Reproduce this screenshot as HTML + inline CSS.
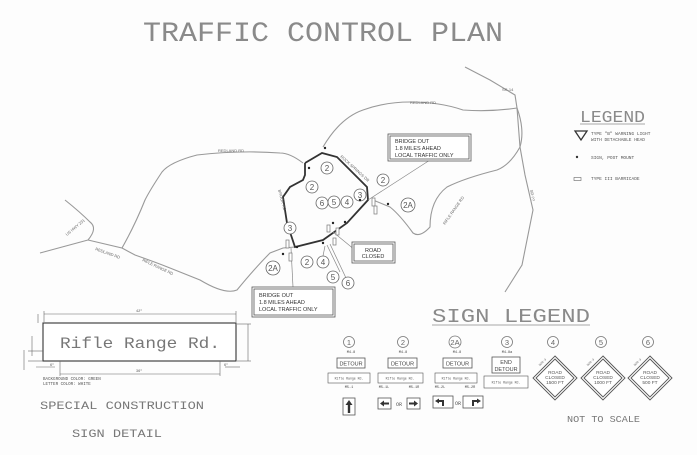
<!DOCTYPE html>
<html><head><meta charset="utf-8"><style>
html,body{margin:0;padding:0;background:#fff;}
svg{display:block;font-family:"Liberation Mono",monospace;}
</style></head><body>
<svg width="697" height="455" viewBox="0 0 697 455" xmlns="http://www.w3.org/2000/svg">
<rect width="697" height="455" fill="#fdfdfd"/>
<text x="143" y="41" font-size="28" fill="#8a8a8a" textLength="360" lengthAdjust="spacingAndGlyphs" font-family="Liberation Mono,monospace">TRAFFIC CONTROL PLAN</text>

<!-- roads -->
<g fill="none" stroke="#999" stroke-width="1.1">
<path d="M465,67 L490,80 L515,95 L517,108"/>
<path d="M323,147 Q340,118 363,110 Q385,102 410,102 Q440,102 463,110 Q490,112 517,108 Q525,130 520,147 Q510,165 497,170 Q465,178 447,187 Q430,200 430,227 Q420,238 413,233 Q400,215 390,207 L373,200"/>
<path d="M517,108 L520,147 L525,175 L533,210 L522,265 L505,292"/>
<path d="M303,163 Q290,153 280,153 Q240,150 197,155 Q170,162 162,172 Q150,190 145,200 Q135,225 122,248 L88,240"/>
<path d="M88,240 Q98,228 90,222 Q80,212 65,200"/>
<path d="M88,240 L40,253"/>
<path d="M122,248 L135,255 Q155,262 170,268 Q190,276 200,280 Q225,295 237,290 Q255,268 270,253 L283,248 L295,247"/>
</g>
<g fill="none" stroke="#333" stroke-width="1.8">
<path d="M305,163 L305,175 L303,180 L290,187 L283,197 L287,223 L295,247 L323,240 L347,223 L368,200 L367,187 L337,157 L322,153 L305,163"/>
</g>
<g stroke="#888" stroke-width="0.7" fill="none">
<line x1="368" y1="200" x2="430" y2="160"/>
<line x1="291" y1="248" x2="293" y2="287"/>
<line x1="333" y1="232" x2="355" y2="250"/>
<line x1="327" y1="245" x2="340" y2="272"/>
<line x1="330" y1="244" x2="346" y2="278"/>
<line x1="325" y1="246" x2="323" y2="256"/>
</g>
<!-- road labels -->
<g font-size="4" fill="#666" font-family="Liberation Sans,sans-serif">
<text x="218" y="152">REDLAND RD</text>
<text x="410" y="104">REDLAND RD</text>
<text x="95" y="250" transform="rotate(20 95 250)">REDLAND RD</text>
<text x="142" y="261" transform="rotate(25 142 261)">RIFLE RANGE RD</text>
<text x="340" y="157" transform="rotate(42 340 157)">ROCK SPRINGS DR</text>
<text x="445" y="225" transform="rotate(-55 445 225)">RIFLE RANGE RD</text>
<text x="530" y="190" transform="rotate(80 530 190)">SR-??</text>
<text x="502" y="91">SR-14</text>
<text x="67" y="236" transform="rotate(-40 67 236)">US HWY 231</text>
<text x="278" y="190" transform="rotate(75 278 190)">BROOK RD</text>
</g>

<!-- callout boxes -->
<g fill="#fff" stroke="#555" stroke-width="0.8">
<rect x="388" y="134" width="83" height="27"/><rect x="390" y="136" width="79" height="23" fill="none"/>
<rect x="252" y="287" width="83" height="30"/><rect x="254" y="289" width="79" height="26" fill="none"/>
<rect x="352" y="242" width="43" height="21"/><rect x="354" y="244" width="39" height="17" fill="none"/>
</g>
<g font-size="5.5" fill="#333" font-family="Liberation Sans,sans-serif">
<text x="395" y="143">BRIDGE OUT</text><text x="395" y="150">1.8 MILES AHEAD</text><text x="395" y="157">LOCAL TRAFFIC ONLY</text>
<text x="259" y="297">BRIDGE OUT</text><text x="259" y="304">1.8 MILES AHEAD</text><text x="259" y="311">LOCAL TRAFFIC ONLY</text>
<text x="373" y="252" text-anchor="middle">ROAD</text><text x="373" y="258" text-anchor="middle">CLOSED</text>
</g>
<!-- map circles -->
<g fill="#fff" stroke="#666" stroke-width="0.8">
<circle cx="327" cy="168" r="6"/><circle cx="312" cy="187" r="6"/><circle cx="383" cy="180" r="6"/>
<circle cx="360" cy="195" r="6"/><circle cx="408" cy="205" r="7"/><circle cx="322" cy="203" r="6"/>
<circle cx="334" cy="202" r="6"/><circle cx="347" cy="202" r="6"/><circle cx="290" cy="228" r="6"/>
<circle cx="273" cy="268" r="7"/><circle cx="307" cy="262" r="6"/><circle cx="323" cy="262" r="6"/>
<circle cx="333" cy="277" r="6"/><circle cx="348" cy="283" r="6"/>
</g>
<g font-size="8" fill="#555" text-anchor="middle" font-family="Liberation Sans,sans-serif">
<text x="327" y="171">2</text><text x="312" y="190">2</text><text x="383" y="183">2</text>
<text x="360" y="198">3</text><text x="408" y="208">2A</text><text x="322" y="206">6</text>
<text x="334" y="205">5</text><text x="347" y="205">4</text><text x="290" y="231">3</text>
<text x="273" y="271">2A</text><text x="307" y="265">2</text><text x="323" y="265">4</text>
<text x="333" y="280">5</text><text x="348" y="286">6</text>
</g>
<g fill="#222">
<circle cx="325" cy="148" r="1.2"/><circle cx="309" cy="168" r="1.2"/><circle cx="360" cy="200" r="1.2"/>
<circle cx="388" cy="204" r="1.2"/><circle cx="297" cy="247" r="1.2"/><circle cx="283" cy="254" r="1.2"/>
<circle cx="333" cy="223" r="1.2"/><circle cx="345" cy="222" r="1.2"/><circle cx="323" cy="243" r="1.2"/>
</g>
<g fill="#fff" stroke="#777" stroke-width="0.7">
<rect x="372" y="198" width="3" height="8"/><rect x="374" y="206" width="3" height="8"/>
<rect x="286" y="240" width="3" height="8"/><rect x="289" y="253" width="3" height="8"/>
<rect x="327" y="225" width="3" height="7"/><rect x="336" y="228" width="3" height="7"/><rect x="333" y="238" width="3" height="7"/>
</g>

<!-- legend -->
<text x="580" y="122" font-size="17" fill="#8a8a8a" textLength="65" lengthAdjust="spacingAndGlyphs" font-family="Liberation Mono,monospace">LEGEND</text>
<line x1="580" y1="124" x2="645" y2="124" stroke="#888" stroke-width="0.8"/>
<path d="M575,131 L587,131 L581,140 Z" fill="none" stroke="#333" stroke-width="1.3"/>
<g font-size="4.5" fill="#555">
<text x="591" y="135">TYPE "B" WARNING LIGHT</text><text x="591" y="141">WITH DETACHABLE HEAD</text>
<text x="591" y="159">SIGN, POST MOUNT</text><text x="591" y="180">TYPE III BARRICADE</text>
</g>
<circle cx="577" cy="157" r="1.2" fill="#333"/>
<rect x="574" y="177.5" width="7" height="3" fill="none" stroke="#666" stroke-width="0.6"/>

<!-- sign legend -->
<text x="432" y="322" font-size="19" fill="#8a8a8a" textLength="158" lengthAdjust="spacingAndGlyphs" font-family="Liberation Mono,monospace">SIGN LEGEND</text>
<line x1="432" y1="325" x2="590" y2="325" stroke="#888" stroke-width="0.8"/>
<g fill="none" stroke="#777" stroke-width="0.8">
<circle cx="349" cy="342" r="5.5"/><circle cx="403" cy="342" r="5.5"/><circle cx="455" cy="342" r="6"/>
<circle cx="507" cy="342" r="5.5"/><circle cx="553" cy="342" r="5.5"/><circle cx="601" cy="342" r="5.5"/><circle cx="648" cy="342" r="5.5"/>
</g>
<g font-size="7.5" fill="#666" text-anchor="middle" font-family="Liberation Sans,sans-serif">
<text x="349" y="345">1</text><text x="403" y="345">2</text><text x="455" y="345">2A</text><text x="507" y="345">3</text>
<text x="553" y="345">4</text><text x="601" y="345">5</text><text x="648" y="345">6</text>
</g>
<g font-size="3.5" fill="#444" text-anchor="middle">
<text x="351" y="353">M4-8</text><text x="403" y="353">M4-8</text><text x="457" y="353">M4-8</text><text x="507" y="353">M4-8a</text>
<text x="349" y="388">M5-1</text><text x="384" y="388">M5-1L</text><text x="414" y="388">M5-1R</text>
<text x="440" y="388">M5-2L</text><text x="470" y="388">M5-2R</text>
</g>
<g fill="#fff" stroke="#555" stroke-width="0.8">
<rect x="337" y="358" width="28" height="10"/><rect x="388" y="358" width="29" height="10"/><rect x="443" y="358" width="29" height="10"/>
<rect x="492" y="357" width="28" height="16"/>
<rect x="328" y="373" width="42" height="10" stroke-width="0.6"/><rect x="378" y="373" width="45" height="10" stroke-width="0.6"/>
<rect x="435" y="373" width="42" height="10" stroke-width="0.6"/><rect x="484" y="376" width="44" height="12" stroke-width="0.6"/>
<rect x="343" y="398" width="12" height="17"/><rect x="378" y="398" width="13" height="11"/><rect x="407" y="398" width="13" height="11"/>
<rect x="433" y="396" width="20" height="12"/><rect x="463" y="396" width="20" height="12"/>
</g>
<g font-size="5.5" fill="#444" text-anchor="middle" font-family="Liberation Sans,sans-serif">
<text x="351" y="365.5">DETOUR</text><text x="402.5" y="365.5">DETOUR</text><text x="457.5" y="365.5">DETOUR</text>
<text x="506" y="364">END</text><text x="506" y="371">DETOUR</text>
</g>
<g font-size="3.2" fill="#555" text-anchor="middle">
<text x="349" y="379.5">Rifle Range Rd.</text><text x="400" y="379.5">Rifle Range Rd.</text>
<text x="456" y="379.5">Rifle Range Rd.</text><text x="506" y="383.5">Rifle Range Rd.</text>
</g>
<g font-size="5" fill="#555"><text x="396" y="406">OR</text><text x="455" y="405">OR</text></g>
<g fill="#333">
<path d="M349,400 L352.5,405 L350.2,405 L350.2,413 L347.8,413 L347.8,405 L345.5,405 Z"/>
<path d="M380,403.5 L384,400.5 L384,402.5 L389,402.5 L389,404.5 L384,404.5 L384,406.5 Z"/>
<path d="M418,403.5 L414,400.5 L414,402.5 L409,402.5 L409,404.5 L414,404.5 L414,406.5 Z"/>
<path d="M435,401 L439,398.5 L439,400 L444,400 L444,406 L442,406 L442,402 L439,402 L439,403.5 Z"/>
<path d="M481,401 L477,398.5 L477,400 L472,400 L472,406 L474,406 L474,402 L477,402 L477,403.5 Z"/>
</g>
<g fill="#fff" stroke="#555" stroke-width="0.9">
<path d="M555,356 L577,378 L555,400 L533,378 Z"/><path d="M555,359 L574,378 L555,397 L536,378 Z" fill="none"/>
<path d="M603,356 L625,378 L603,400 L581,378 Z"/><path d="M603,359 L622,378 L603,397 L584,378 Z" fill="none"/>
<path d="M650,356 L672,378 L650,400 L628,378 Z"/><path d="M650,359 L669,378 L650,397 L631,378 Z" fill="none"/>
</g>
<g font-size="4.8" fill="#555" text-anchor="middle" font-family="Liberation Sans,sans-serif">
<text x="555" y="374">ROAD</text><text x="555" y="379">CLOSED</text><text x="555" y="384">1500 FT</text>
<text x="603" y="374">ROAD</text><text x="603" y="379">CLOSED</text><text x="603" y="384">1000 FT</text>
<text x="650" y="374">ROAD</text><text x="650" y="379">CLOSED</text><text x="650" y="384">500 FT</text>
</g>
<g font-size="3" fill="#555">
<text x="540" y="366" transform="rotate(-45 540 366)">W20-3</text>
<text x="588" y="366" transform="rotate(-45 588 366)">W20-3</text>
<text x="635" y="366" transform="rotate(-45 635 366)">W20-3</text>
</g>
<text x="567" y="422" font-size="9" fill="#777" textLength="73" lengthAdjust="spacingAndGlyphs">NOT TO SCALE</text>

<!-- special sign detail -->
<rect x="43" y="323" width="193" height="38" fill="#fff" stroke="#333" stroke-width="1.1"/>
<text x="140" y="348" font-size="16" fill="#777" text-anchor="middle" textLength="160" lengthAdjust="spacingAndGlyphs">Rifle Range Rd.</text>
<g stroke="#666" stroke-width="0.6" fill="none">
<line x1="44" y1="314" x2="236" y2="314"/><line x1="44" y1="311" x2="44" y2="322"/><line x1="236" y1="311" x2="236" y2="322"/>
<line x1="60" y1="374" x2="220" y2="374"/><line x1="60" y1="361" x2="60" y2="376"/><line x1="220" y1="361" x2="220" y2="376"/>
<line x1="248" y1="324" x2="248" y2="361"/><line x1="237" y1="324" x2="251" y2="324"/><line x1="237" y1="361" x2="251" y2="361"/>
<line x1="38" y1="314" x2="38" y2="323"/><line x1="32" y1="336" x2="32" y2="356"/><line x1="24" y1="350" x2="24" y2="370"/>
<line x1="36" y1="367" x2="55" y2="367"/><line x1="225" y1="367" x2="240" y2="367"/>
<line x1="28" y1="361" x2="43" y2="361"/><line x1="28" y1="351" x2="43" y2="351"/>
</g>
<g font-size="3.5" fill="#555">
<text x="136" y="312">42"</text><text x="136" y="372">36"</text><text x="50" y="366">6"</text><text x="224" y="366">6"</text>
<text x="43" y="380" font-size="4.2">BACKGROUND COLOR: GREEN</text><text x="43" y="385" font-size="4.2">LETTER COLOR: WHITE</text>
</g>
<text x="40" y="409" font-size="11" fill="#777" textLength="164" lengthAdjust="spacingAndGlyphs">SPECIAL CONSTRUCTION</text>
<text x="72" y="437" font-size="11" fill="#777" textLength="90" lengthAdjust="spacingAndGlyphs">SIGN DETAIL</text>
</svg>
</body></html>
